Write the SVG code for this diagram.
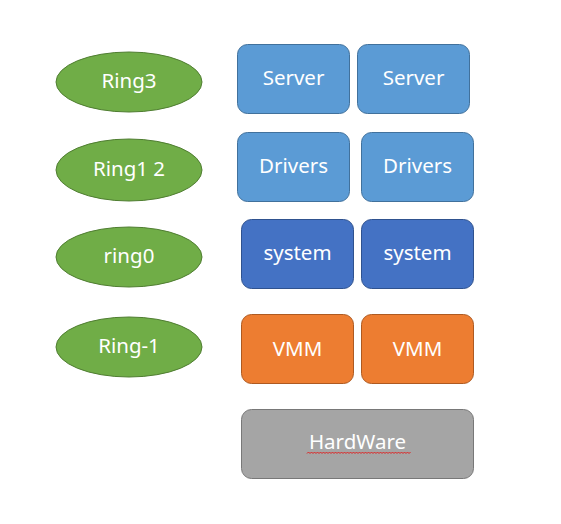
<svg xmlns="http://www.w3.org/2000/svg" width="561" height="524" viewBox="0 0 561 524">
<style>
text{font-family:"Noto Sans","Noto Sans CJK SC",sans-serif;font-size:20.5px;fill:#fff;text-anchor:middle;dominant-baseline:central}
.ring{fill:#70AD47;stroke:#507E32;stroke-width:1}
.lb{fill:#5B9BD5;stroke:#41719C;stroke-width:1}
.db{fill:#4472C4;stroke:#2F528F;stroke-width:1}
.or{fill:#ED7D31;stroke:#AE5A21;stroke-width:1}
.gr{fill:#A5A5A5;stroke:#787878;stroke-width:1}
</style>
<rect width="561" height="524" fill="#fff"/>
<g id="ring3"><ellipse class="ring" cx="129" cy="82" rx="73" ry="30"/><text x="129" y="80">Ring3</text></g>
<g id="ring12"><ellipse class="ring" cx="129" cy="170" rx="73" ry="31"/><text x="129" y="168">Ring1 2</text></g>
<g id="ring0"><ellipse class="ring" cx="129" cy="257" rx="73" ry="30"/><text x="129" y="255">ring0</text></g>
<g id="ringm1"><ellipse class="ring" cx="129" cy="347" rx="73" ry="30"/><text x="129" y="345">Ring-1</text></g>
<g id="server1"><rect class="lb" x="237.5" y="44.5" width="112" height="69" rx="10"/><text x="293.5" y="77">Server</text></g>
<g id="server2"><rect class="lb" x="357.5" y="44.5" width="112" height="69" rx="10"/><text x="413.5" y="77">Server</text></g>
<g id="drivers1"><rect class="lb" x="237.5" y="132.5" width="112" height="69" rx="10"/><text x="293.5" y="165">Drivers</text></g>
<g id="drivers2"><rect class="lb" x="361.5" y="132.5" width="112" height="69" rx="10"/><text x="417.5" y="165">Drivers</text></g>
<g id="system1"><rect class="db" x="241.5" y="219.5" width="112" height="69" rx="10"/><text x="297.5" y="252">system</text></g>
<g id="system2"><rect class="db" x="361.5" y="219.5" width="112" height="69" rx="10"/><text x="417.5" y="252">system</text></g>
<g id="vmm1"><rect class="or" x="241.5" y="314.5" width="112" height="69" rx="10"/><text x="297.5" y="348">VMM</text></g>
<g id="vmm2"><rect class="or" x="361.5" y="314.5" width="112" height="69" rx="10"/><text x="417.5" y="348">VMM</text></g>
<g id="hardware"><rect class="gr" x="241.5" y="409.5" width="232" height="69" rx="10"/><text x="357.5" y="441">HardWare</text>
<path d="M307 453.5 l1.5 -1.5 l1.5 1.5 l1.5 -1.5 l1.5 1.5 l1.5 -1.5 l1.5 1.5 l1.5 -1.5 l1.5 1.5 l1.5 -1.5 l1.5 1.5 l1.5 -1.5 l1.5 1.5 l1.5 -1.5 l1.5 1.5 l1.5 -1.5 l1.5 1.5 l1.5 -1.5 l1.5 1.5 l1.5 -1.5 l1.5 1.5 l1.5 -1.5 l1.5 1.5 l1.5 -1.5 l1.5 1.5 l1.5 -1.5 l1.5 1.5 l1.5 -1.5 l1.5 1.5 l1.5 -1.5 l1.5 1.5 l1.5 -1.5 l1.5 1.5 l1.5 -1.5 l1.5 1.5 l1.5 -1.5 l1.5 1.5 l1.5 -1.5 l1.5 1.5 l1.5 -1.5 l1.5 1.5 l1.5 -1.5 l1.5 1.5 l1.5 -1.5 l1.5 1.5 l1.5 -1.5 l1.5 1.5 l1.5 -1.5 l1.5 1.5 l1.5 -1.5 l1.5 1.5 l1.5 -1.5 l1.5 1.5 l1.5 -1.5 l1.5 1.5 l1.5 -1.5 l1.5 1.5 l1.5 -1.5 l1.5 1.5 l1.5 -1.5 l1.5 1.5 l1.5 -1.5 l1.5 1.5 l1.5 -1.5 l1.5 1.5 l1.5 -1.5 l1.5 1.5 l1.5 -1.5 l1.5 1.5 l1.5 -1.5" fill="none" stroke="#E02020" stroke-width="1"/></g>
<g id="connectors"/>
</svg>
